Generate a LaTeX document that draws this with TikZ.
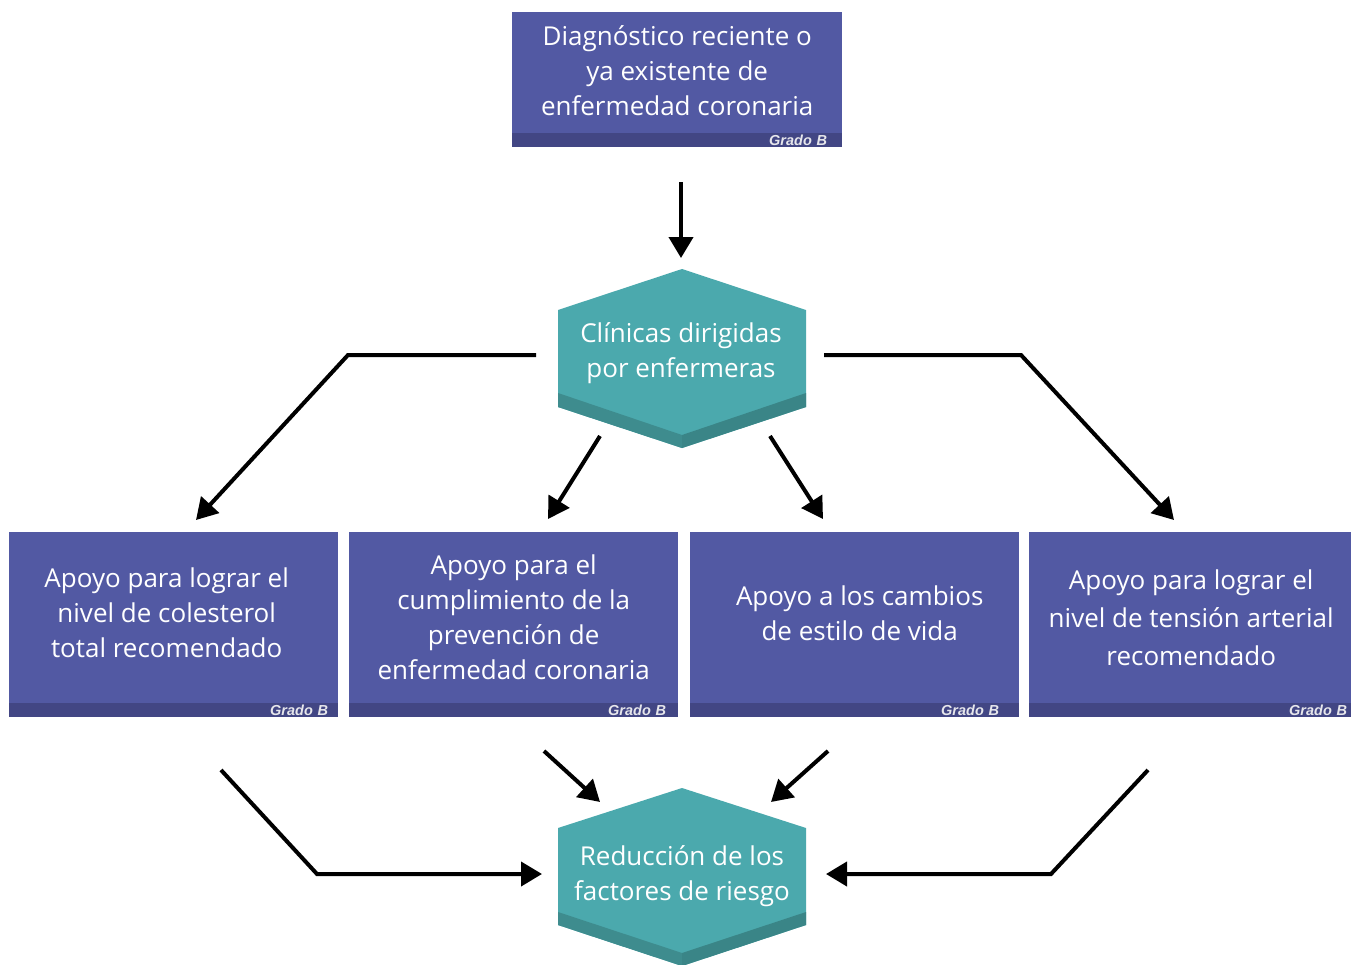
\documentclass[tikz,border=0pt]{standalone}
\usepackage{fontspec}
\setmainfont{Open Sans}
\newfontfamily\gradofam{Liberation Sans}
\usetikzlibrary{arrows.meta}
\definecolor{boxblue}{RGB}{82,89,163}
\definecolor{footblue}{RGB}{66,70,132}
\definecolor{teal1}{RGB}{75,169,173}
\definecolor{teal2}{RGB}{62,140,142}
\definecolor{teal3}{RGB}{58,133,135}
\definecolor{gradocol}{RGB}{230,230,235}
\tikzset{
  boxbody/.style={fill=boxblue, draw=none, minimum width=329pt, minimum height=171pt, inner sep=0pt, anchor=north west},
  boxtxt/.style={text=white, align=center, inner sep=0pt, font=\fontsize{26}{35}\selectfont},
  foot/.style={fill=footblue, draw=none, minimum height=14pt, text width=309pt, inner xsep=10pt, inner ysep=0pt, text height=10.5pt, text depth=0pt, align=right, anchor=north west, text=gradocol, font=\gradofam\bfseries\itshape\fontsize{14.5}{14.5}\selectfont},
  hextext/.style={text=white, align=center, font=\fontsize{26}{35}\selectfont, inner sep=0pt},
  conn/.style={line width=4pt, -{Triangle[length=21pt,width=24pt]}, line join=miter},
}
\begin{document}
\begin{tikzpicture}[x=1pt,y=-1pt]
\useasboundingbox (0,0) rectangle (1351,964);
\fill[white] (0,0) rectangle (1351,964);

% top box
\node[boxbody, minimum width=330pt, minimum height=121pt] (top) at (512,12) {};
\node[boxtxt] (toptxt) at ([yshift=2pt]top.center) {Diagnóstico reciente o\\ya existente de\\enfermedad coronaria};
\node[foot, text width=300pt, inner xsep=15pt] (ftop) at (512,133) {Grado B};

% hexagon 1
\fill[teal1] (682,269) -- (806,310) -- (806,407) -- (682,448) -- (558,407) -- (558,310) -- cycle;
\fill[teal2] (558,393) -- (682,435) -- (682,448) -- (558,407) -- cycle;
\fill[teal3] (682,435) -- (806,393) -- (806,407) -- (682,448) -- cycle;
\node[hextext] (hex1) at (681,353) {Clínicas dirigidas\\por enfermeras};

% hexagon 2
\fill[teal1] (682,788) -- (806,828) -- (806,925) -- (682,966) -- (558,925) -- (558,828) -- cycle;
\fill[teal2] (558,912) -- (682,953) -- (682,966) -- (558,925) -- cycle;
\fill[teal3] (682,953) -- (806,912) -- (806,925) -- (682,966) -- cycle;
\node[hextext] (hex2) at (682,876) {Reducción de los\\factores de riesgo};

% middle boxes
\node[boxbody] (b1) at (9,532) {};
\node[boxtxt] (b1t) at ([xshift=-7pt,yshift=5pt]b1.center) {Apoyo para lograr el\\nivel de colesterol\\total recomendado};
\node[foot] (f1) at (9,703) {Grado B};
\node[boxbody] (b2) at (349,532) {};
\node[boxtxt] (b2t) at (b2.center) {Apoyo para el\\cumplimiento de la\\prevención de\\enfermedad coronaria};
\node[foot, text width=305pt, inner xsep=12pt] (f2) at (349,703) {Grado B};
\node[boxbody] (b3) at (690,532) {};
\node[boxtxt] (b3t) at ([xshift=5pt,yshift=4pt]b3.center) {Apoyo a los cambios\\de estilo de vida};
\node[foot, text width=289pt, inner xsep=20pt] (f3) at (690,703) {Grado B};
\node[boxbody, minimum width=322pt] (b4) at (1029,532) {};
\node[boxtxt, font=\fontsize{26}{38}\selectfont] (b4t) at ([xshift=1pt]b4.center) {Apoyo para lograr el\\nivel de tensión arterial\\recomendado};
\node[foot, text width=314pt, inner xsep=4pt] (f4) at (1029,703) {Grado B};

% connector endpoints
\coordinate (s0) at (681,182); \coordinate (e0) at (681,258);
\coordinate (sL) at (536,355); \coordinate (kL) at (348,355); \coordinate (eL) at (196,520);
\coordinate (sCL) at (600,436); \coordinate (eCL) at (548,519);
\coordinate (sCR) at (770,436); \coordinate (eCR) at (823,519);
\coordinate (sR) at (824,355); \coordinate (kR) at (1021,355); \coordinate (eR) at (1174,520);
\coordinate (tL) at (221,770); \coordinate (jL) at (317,874); \coordinate (uL) at (542,874);
\coordinate (tCL) at (544,751); \coordinate (uCL) at (600,802);
\coordinate (tCR) at (828,751); \coordinate (uCR) at (771,802);
\coordinate (tR) at (1148,770); \coordinate (jR) at (1051,874); \coordinate (uR) at (826,874);

\draw[conn] (s0) -- (e0);
\draw[conn] (sL) -- (kL) -- (eL);
\draw[conn] (sCL) -- (eCL);
\draw[conn] (sCR) -- (eCR);
\draw[conn] (sR) -- (kR) -- (eR);
\draw[conn] (tL) -- (jL) -- (uL);
\draw[conn] (tCL) -- (uCL);
\draw[conn] (tCR) -- (uCR);
\draw[conn] (tR) -- (jR) -- (uR);
\end{tikzpicture}
\end{document}
